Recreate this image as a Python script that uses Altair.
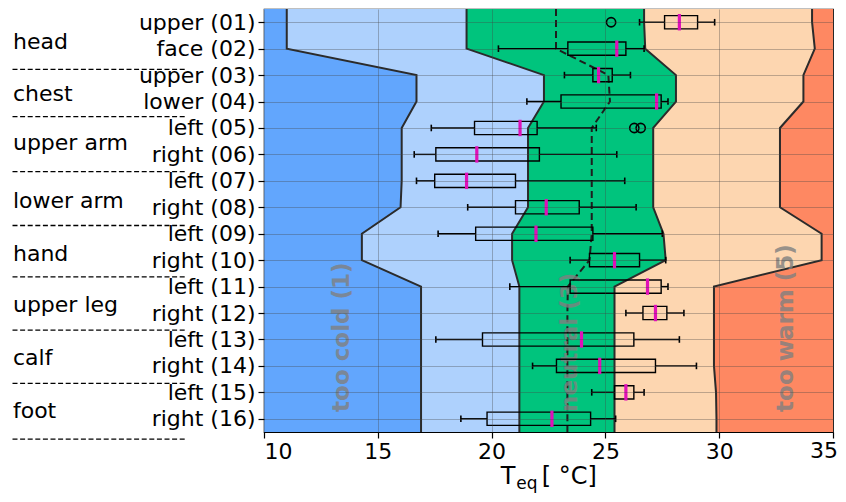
import altair as alt
import pandas as pd

# ---------------- data ----------------
rows = list(range(1, 17))
part_labels = ["upper (01)", "face (02)", "upper (03)", "lower (04)", "left (05)", "right (06)",
               "left (07)", "right (08)", "left (09)", "right (10)", "left (11)", "right (12)",
               "left (13)", "right (14)", "left (15)", "right (16)"]
group_names = ["head", "chest", "upper arm", "lower arm", "hand", "upper leg", "calf", "foot"]
group_label_rows = [1.75, 3.72, 5.55, 7.75, 9.76, 11.7, 13.71, 15.72]
separator_rows = [2.78, 4.57, 6.65, 8.69, 10.63, 12.65, 14.66, 16.77]

whisker_low = [26.5, 20.3, 23.2, 21.55, 17.35, 16.6, 16.7, 18.95, 17.65, 23.45, 20.8, 25.9, 17.55, 21.8, 24.4, 18.65]
q1 = [27.6, 23.35, 24.45, 23.05, 19.25, 17.55, 17.5, 21.05, 19.3, 24.3, 23.45, 26.65, 19.6, 22.85, 25.4, 19.8]
median = [28.25, 25.5, 24.7, 27.25, 21.25, 19.35, 18.9, 22.4, 21.95, 25.4, 26.85, 27.2, 23.95, 24.75, 25.9, 22.65]
q3 = [29.05, 25.9, 25.3, 27.45, 22.0, 22.1, 21.05, 23.85, 24.45, 26.5, 27.45, 27.7, 26.25, 27.2, 26.25, 24.35]
whisker_high = [29.8, 26.7, 26.1, 27.75, 24.6, 25.5, 25.85, 26.35, 27.5, 27.65, 27.75, 28.45, 28.25, 29.0, 26.7, 25.45]
flier_rows = [1, 5, 5]
flier_values = [25.25, 26.27, 26.55]

# comfort-zone boundaries per row (1..16)
b1 = [11.0, 11.0, 16.7, 16.7, 16.05, 16.05, 16.05, 16.0, 14.3, 14.3, 16.9, 16.9, 16.9, 16.9, 16.9, 16.9]
b2 = [18.9, 18.9, 22.3, 22.3, 21.6, 21.6, 21.6, 21.6, 20.9, 20.9, 21.22, 21.22, 21.22, 21.22, 21.22, 21.22]
b3 = [26.7, 26.75, 28.1, 28.1, 27.1, 27.1, 27.1, 27.1, 27.55, 27.65, 25.4, 25.4, 25.4, 25.4, 25.4, 25.4]
b4 = [34.08, 34.2, 33.7, 33.7, 32.67, 32.67, 32.67, 32.67, 34.5, 34.5, 29.77, 29.77, 29.77, 29.77, 29.86, 29.88]
neutral_line = [22.83, 22.83, 25.13, 25.2, 24.4, 24.4, 24.4, 24.4, 24.4, 24.3, 23.35, 23.33, 23.33, 23.33, 23.33, 23.33]

band_names = ["too cold (1)", "cool (2)", "neutral (3)", "warm (4)", "too warm (5)"]
band_colors = ["#62a6fd", "#aed1fd", "#00c47d", "#fdd6b0", "#fe8862"]
zone_labels = ["too cold (1)", "neutral (3)", "too warm (5)"]
zone_label_x = [13.41, 23.44, 32.93]
zone_label_row = 15.74

x_ticks = [10, 15, 20, 25, 30, 35]
x_lim = [10, 35]
y_lim = [0.5, 16.5]

# ---------------- tables ----------------
ext_rows = [y_lim[0]] + rows + [y_lim[1]]
def ext(a):
    return [a[0]] + list(a) + [a[-1]]

edges = [[x_lim[0]] * 16, b1, b2, b3, b4, [x_lim[1]] * 16]
area_recs = []
for i, name in enumerate(band_names):
    lo, hi = ext(edges[i]), ext(edges[i + 1])
    for y, a, b in zip(ext_rows, lo, hi):
        area_recs.append({"band": name, "y": y, "lo": a, "hi": b})
area_df = pd.DataFrame(area_recs)

line_recs = []
for name, arr in zip(["b1", "b2", "b3", "b4"], [b1, b2, b3, b4]):
    for y, v in zip(ext_rows, ext(arr)):
        line_recs.append({"line": name, "y": y, "x": v})
line_df = pd.DataFrame(line_recs)
neutral_df = pd.DataFrame({"y": ext_rows, "x": ext(neutral_line)})

box_df = pd.DataFrame({"row": rows, "wlo": whisker_low, "q1": q1, "med": median,
                       "q3": q3, "whi": whisker_high})
flier_df = pd.DataFrame({"row": flier_rows, "v": flier_values})
group_df = pd.DataFrame({"name": group_names, "row": group_label_rows, "x": [-1.03] * 8})
sep_df = pd.DataFrame({"row": separator_rows, "x1": [-1.05] * 8, "x2": [6.55] * 8})
zone_df = pd.DataFrame({"label": zone_labels, "x": zone_label_x, "row": [zone_label_row] * 3})
last_tick_df = pd.DataFrame({"v": [x_ticks[-1]], "row": [16.84], "txt": [str(x_ticks[-1])]})
title_df = pd.DataFrame({"txt": ["T", "eq", "[ °C]"], "x": [21.05, 21.08, 22.2],
                         "row": [18.45, 18.45, 18.45]})

# ---------------- scales / axes ----------------
xs = alt.Scale(domain=x_lim, nice=False, zero=False)
ys = alt.Scale(domain=y_lim, reverse=True, nice=False, zero=False)
FONT = "DejaVu Sans"
label_js = "[" + ",".join("'%s'" % s for s in part_labels) + "]"

x_axis = alt.Axis(values=x_ticks, title="", labelFontSize=22, labelFont=FONT, labelColor="black",
                  labelExpr="datum.value == 35 ? '' : datum.label",
                  tickColor="black", tickSize=6, tickWidth=1.2, labelPadding=3, domain=False,
                  grid=True, gridColor="#444444", gridOpacity=0.35, gridWidth=1, zindex=1)
y_axis = alt.Axis(values=rows, labelExpr=label_js + "[datum.value - 1]", title="", labelFontSize=22,
                  labelFont=FONT, labelColor="black", tickColor="black", tickSize=6, tickWidth=1.2,
                  labelPadding=3, domain=False, grid=True, gridColor="#444444", gridOpacity=0.35,
                  gridWidth=1, zindex=1)

def X(f):
    return alt.X(f, scale=xs, axis=x_axis)

def Y(f):
    return alt.Y(f, scale=ys, axis=y_axis)

areas = alt.Chart(area_df).mark_area(orient="horizontal", clip=True, opacity=1).encode(
    y=Y("y:Q"),
    x=alt.X("lo:Q", scale=xs, axis=x_axis, stack=False),
    x2="hi:Q",
    color=alt.Color("band:N", scale=alt.Scale(domain=band_names, range=band_colors), legend=None),
)

bound_lines = alt.Chart(line_df).mark_line(color="#2b2b2b", strokeWidth=2, clip=True).encode(
    y=Y("y:Q"), x=X("x:Q"), detail="line:N", order=alt.Order("y:Q"),
)

neutral = alt.Chart(neutral_df).mark_line(color="#1e1e1e", strokeWidth=2, strokeDash=[7, 4], clip=True).encode(
    y=Y("y:Q"), x=X("x:Q"), order=alt.Order("y:Q"),
)

zone_text = alt.Chart(zone_df).mark_text(angle=270, align="left", baseline="middle", font=FONT,
                                         fontWeight="bold", fontSize=23, color="#808080",
                                         opacity=0.8).encode(
    x=X("x:Q"), y=Y("row:Q"), text="label:N",
)

base = alt.Chart(box_df).transform_calculate(
    blo="datum.row - 0.25", bhi="datum.row + 0.25",
    clo="datum.row - 0.125", chi="datum.row + 0.125",
    mlo="datum.row - 0.31", mhi="datum.row + 0.31",
)

boxes = base.mark_rect(fillOpacity=0, stroke="black", strokeWidth=1.4).encode(
    x=X("q1:Q"), x2="q3:Q", y=Y("blo:Q"), y2="bhi:Q")
wl = base.mark_rule(color="black", strokeWidth=1.4).encode(x=X("wlo:Q"), x2="q1:Q", y=Y("row:Q"))
wh = base.mark_rule(color="black", strokeWidth=1.4).encode(x=X("q3:Q"), x2="whi:Q", y=Y("row:Q"))
cl = base.mark_rule(color="black", strokeWidth=1.6).encode(x=X("wlo:Q"), y=Y("clo:Q"), y2="chi:Q")
ch = base.mark_rule(color="black", strokeWidth=1.6).encode(x=X("whi:Q"), y=Y("clo:Q"), y2="chi:Q")
meds = base.mark_rule(color="#e010b8", strokeWidth=3.2).encode(x=X("med:Q"), y=Y("mlo:Q"), y2="mhi:Q")

fliers = alt.Chart(flier_df).mark_point(shape="circle", filled=False, color="black", size=85,
                                        strokeWidth=1.6, opacity=1).encode(x=X("v:Q"), y=Y("row:Q"))

group_text = alt.Chart(group_df).mark_text(align="left", baseline="middle", font=FONT, fontSize=22,
                                           color="black").encode(x=X("x:Q"), y=Y("row:Q"), text="name:N")
seps = alt.Chart(sep_df).mark_rule(color="black", strokeWidth=1.3, strokeDash=[5, 2.6]).encode(
    x=X("x1:Q"), x2="x2:Q", y=Y("row:Q"))

last_tick = alt.Chart(last_tick_df).mark_text(align="right", baseline="top", dx=5, font=FONT,
                                              fontSize=22, color="black").encode(
    x=X("v:Q"), y=Y("row:Q"), text="txt:N")

t_T = alt.Chart(title_df).transform_filter("datum.txt == 'T'").mark_text(
    align="right", baseline="alphabetic", font=FONT, fontSize=24, color="black").encode(
    x=X("x:Q"), y=Y("row:Q"), text="txt:N")
t_sub = alt.Chart(title_df).transform_filter("datum.txt == 'eq'").mark_text(
    align="left", baseline="alphabetic", font=FONT, fontSize=17, dy=5, color="black").encode(
    x=X("x:Q"), y=Y("row:Q"), text="txt:N")
t_rest = alt.Chart(title_df).transform_filter("datum.txt == '[ °C]'").mark_text(
    align="left", baseline="alphabetic", font=FONT, fontSize=24, color="black").encode(
    x=X("x:Q"), y=Y("row:Q"), text="txt:N")

chart = alt.layer(
    areas, bound_lines, neutral, zone_text, boxes, wl, wh, cl, ch, meds, fliers,
    group_text, seps, last_tick, t_T, t_sub, t_rest,
).properties(
    width=569, height=423,
    background="white",
    autosize=alt.AutoSizeParams(type="none"),
    padding={"left": 256, "top": 1, "right": 5, "bottom": 62},
).configure_view(stroke="black", strokeWidth=1.2)

chart.save("out.html", embed_options={"renderer": "svg", "actions": False})
